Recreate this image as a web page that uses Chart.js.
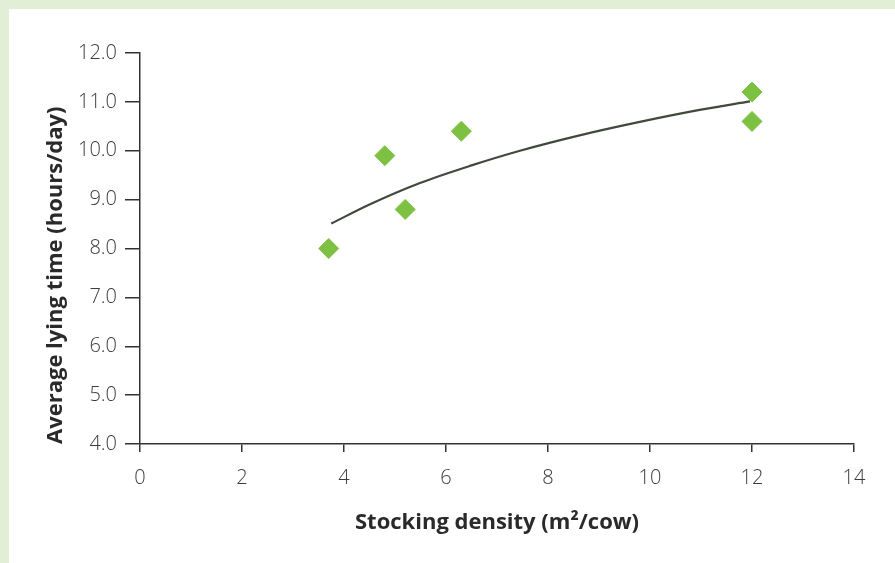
<!DOCTYPE html>
<html>
<head>
<meta charset="utf-8">
<script src="https://cdn.jsdelivr.net/npm/chart.js@4.4.1/dist/chart.umd.min.js"></script>
<style>
  html, body { margin: 0; padding: 0; width: 895px; height: 563px; background: #e2eed5; overflow: hidden; }
  #wrap { position: absolute; left: 9px; top: 9px; width: 886px; height: 554px; background: #ffffff; }
</style>
</head>
<body>
<div id="wrap"><canvas id="c"></canvas></div>
<script>
// Observed data points
const densityValues = [3.7, 4.8, 5.2, 6.3, 12.0, 12.0];
const lyingValues   = [8.0, 9.9, 8.8, 10.4, 11.2, 10.6];

// Fitted trend curve
const trendX = [3.75, 4.5, 5.49, 6.5, 7.45, 8.6, 9.8, 11.0, 11.96];
const trendY = [8.51, 8.90, 9.34, 9.70, 10.0, 10.31, 10.59, 10.84, 11.01];

// Axes
const xTicks = [0, 2, 4, 6, 8, 10, 12, 14];
const yTicks = [4.0, 5.0, 6.0, 7.0, 8.0, 9.0, 10.0, 11.0, 12.0];
const xTitle = 'Stocking density (m\u00B2/cow)';
const yTitle = 'Average lying time (hours/day)';

const axisColor = '#333333';
const tickColor = '#3c3c3c';
const tickFont = { family: '"Open Sans", "Noto Sans", sans-serif', size: 20, weight: '300' };
const titleFont = { family: '"Open Sans", "Noto Sans", sans-serif', size: 22, weight: 'bold' };

new Chart(document.getElementById('c'), {
  type: 'scatter',
  data: {
    datasets: [
      {
        label: 'Observed',
        data: densityValues.map((x, i) => ({ x: x, y: lyingValues[i] })),
        pointStyle: 'rectRot',
        pointRadius: 10,
        pointBackgroundColor: '#7dc142',
        pointBorderColor: '#7dc142',
        pointBorderWidth: 1,
        showLine: false
      },
      {
        label: 'Trend',
        data: trendX.map((x, i) => ({ x: x, y: trendY[i] })),
        showLine: true,
        borderColor: '#404a3c',
        borderWidth: 2.2,
        pointRadius: 0,
        tension: 0.4,
        cubicInterpolationMode: 'monotone',
        fill: false
      }
    ]
  },
  options: {
    responsive: true,
    maintainAspectRatio: false,
    animation: false,
    layout: { padding: { top: 44, right: 41, left: 0, bottom: 0 } },
    plugins: { legend: { display: false }, tooltip: { enabled: false } },
    scales: {
      x: {
        type: 'linear',
        min: 0, max: 14,
        afterBuildTicks: (s) => { s.ticks = xTicks.map(v => ({ value: v })); },
        afterFit: (s) => { s.height = 119; },
        grid: { display: true, drawOnChartArea: false, drawTicks: true, tickLength: 8, color: axisColor, lineWidth: 1.5 },
        border: { display: true, color: axisColor, width: 1.5 },
        ticks: { color: tickColor, font: tickFont, padding: 14, callback: (v) => String(v), maxRotation: 0, autoSkip: false },
        title: { display: true, text: xTitle, color: '#2a2a2a', font: titleFont, padding: { top: 0, bottom: 27 } }
      },
      y: {
        type: 'linear',
        min: 4, max: 12,
        afterBuildTicks: (s) => { s.ticks = yTicks.map(v => ({ value: v })); },
        afterFit: (s) => { s.width = 131; },
        grid: { display: true, drawOnChartArea: false, drawTicks: true, tickLength: 15, color: axisColor, lineWidth: 1.5 },
        border: { display: true, color: axisColor, width: 1.5 },
        ticks: { color: tickColor, font: tickFont, padding: 8, callback: (v) => Number(v).toFixed(1), autoSkip: false },
        title: { display: true, text: yTitle, align: 'start', color: '#2a2a2a', font: titleFont, padding: { top: 34, bottom: 0 } }
      }
    }
  }
});
</script>
</body>
</html>
